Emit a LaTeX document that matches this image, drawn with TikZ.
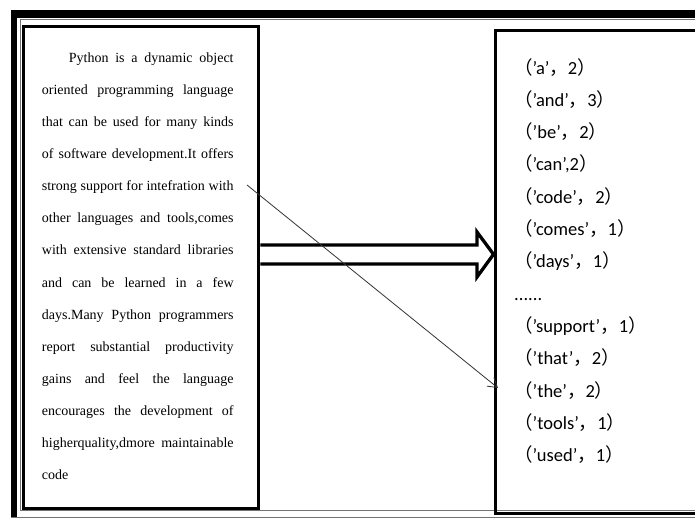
\documentclass[tikz,border=0pt]{standalone}
\usepackage{fontspec}
\setmainfont{Liberation Serif}
\newfontfamily\latfont{Carlito}
\newfontfamily\cjkfont{Noto Sans CJK SC}
\usetikzlibrary{arrows.meta}

% full-width punctuation for the word/count pairs
\newcommand\zlp{{\cjkfont （}}
\newcommand\zrp{{\cjkfont ）}}
\newcommand\zcm{{\cjkfont ，}}
\newcommand\wpair[2]{\zlp’#1’\zcm#2\zrp}

\begin{document}
\begin{tikzpicture}[x=1pt,y=-1pt,
  frameline/.style={line width=3.3pt,draw=black},
  thinrule/.style={line width=0.8pt,draw=black!55},
  srctext/.style={inner sep=0pt,anchor=base west,text width=191.7pt,align=justify,
    font=\fontsize{14pt}{32.15pt}\selectfont},
  cnttext/.style={inner sep=0pt,anchor=base west,text width=170pt,align=left,
    font=\latfont\fontsize{18.5pt}{32.3pt}\selectfont},
  hollowarrow/.style={line width=3.3pt,draw=black,line join=miter},
  pointer/.style={line width=0.8pt,draw=black!80,-{Straight Barb[length=9pt,width=11pt,line width=0.8pt]}}
]
\useasboundingbox (0,0) rectangle (695,520);
\fill[white] (0,0) rectangle (695,520);

% outer frame: heavy top and left edges, thin inner rules
\fill[black] (11,10) rectangle (695,18);
\fill[black] (11,10) rectangle (17,517);
\draw[thinrule] (11,517.5) -- (695,517.5);
\draw[thinrule] (695,19) -- (20.5,19) -- (20.5,510.7) -- (695,510.7);

% source text box
\node[frameline,minimum width=235.5pt,minimum height=482.2pt,inner sep=0pt,anchor=north west]
  (src) at (21.5,24.8) {};
\node[srctext] (para) at (41.7,62) {\tolerance=10000\hyphenpenalty=10000%
\hspace*{27pt}Python is a dynamic object\linebreak
oriented programming language\linebreak
that can be used for many kinds\linebreak
of software development.It offers\linebreak
strong support for intefration with\linebreak
other languages and tools,comes\linebreak
with extensive standard libraries\linebreak
and can be learned in a few\linebreak
days.Many Python programmers\linebreak
report substantial productivity\linebreak
gains and feel the language\linebreak
encourages the development of\linebreak
higherquality,dmore maintainable\linebreak
code};

% word count box
\node[frameline,minimum width=220pt,minimum height=483pt,inner sep=0pt,anchor=north west]
  (cnt) at (493.5,29) {};
\node[cnttext] (counts) at (514,74) {%
\wpair{a}{2}\\
\wpair{and}{3}\\
\wpair{be}{2}\\
\zlp’can’,2\zrp\\
\wpair{code}{2}\\
\wpair{comes}{1}\\
\wpair{days}{1}\\
......\\
\wpair{support}{1}\\
\wpair{that}{2}\\
\wpair{the}{2}\\
\wpair{tools}{1}\\
\wpair{used}{1}};

% hollow block arrow between the boxes
\draw[hollowarrow] (src.east |- 0,245) -- (477,245) -- (477,232) -- (cnt.west |- 0,254.3)
  -- (477,277) -- (477,264) -- (src.east |- 0,264);

% thin pointer from the paragraph to the counts
\coordinate (lnA) at (247,185);
\coordinate (lnB) at (498,388);
\draw[pointer] (lnA) -- (lnB);
\end{tikzpicture}
\end{document}
